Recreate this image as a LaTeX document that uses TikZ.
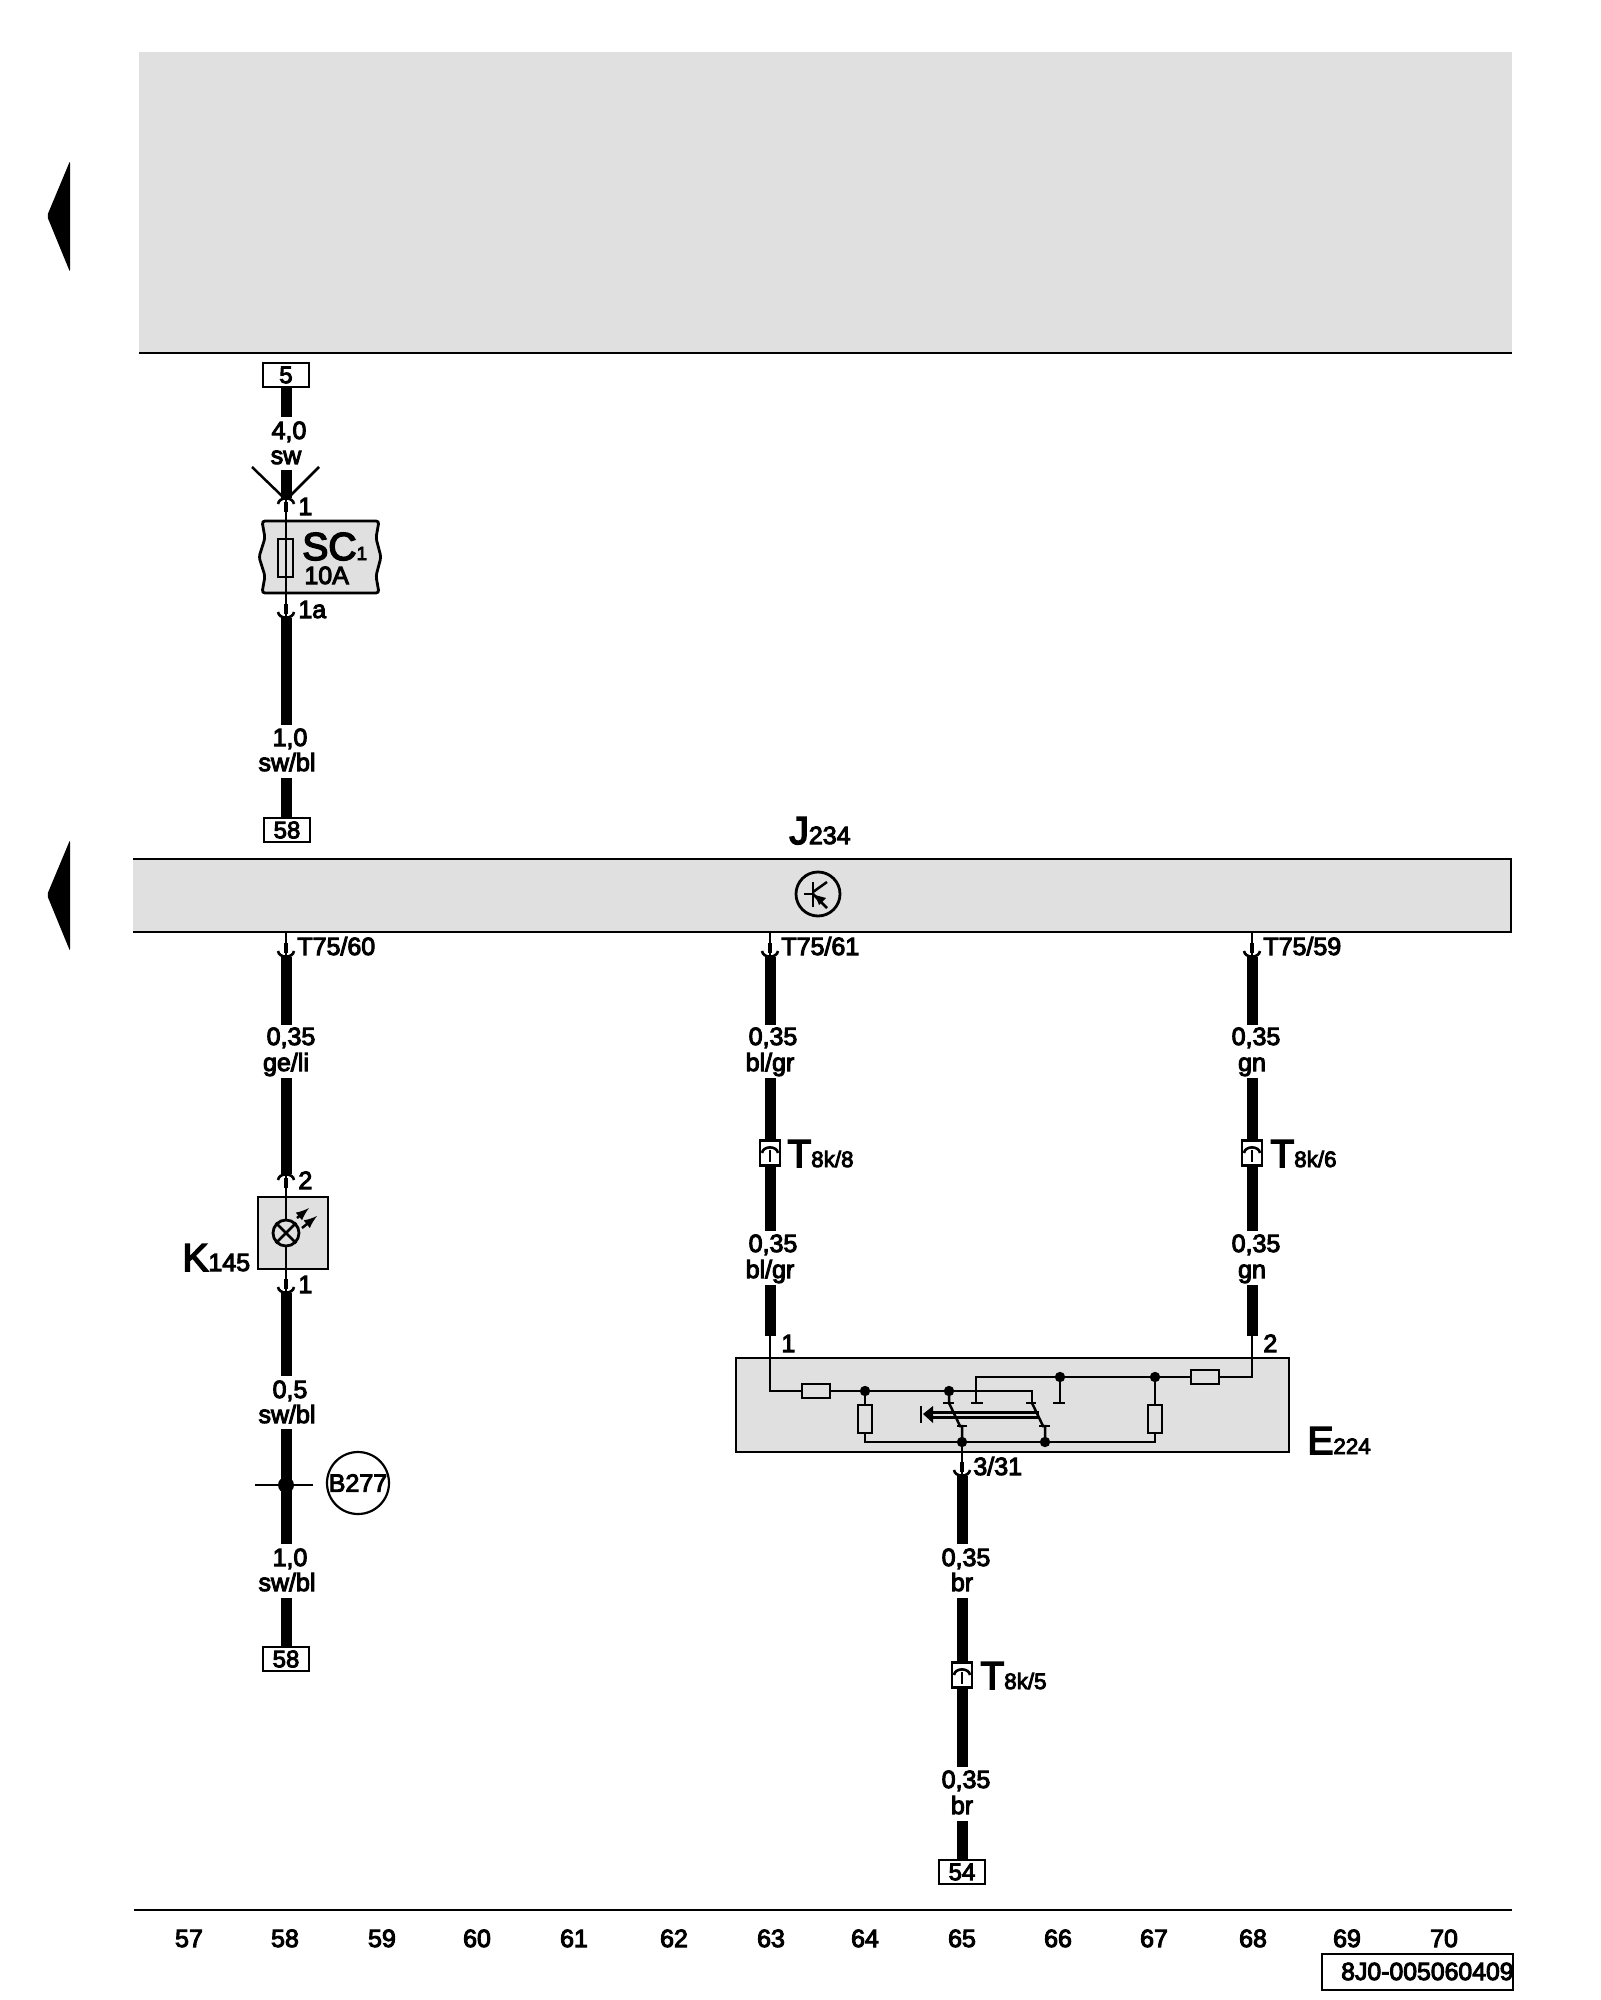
\documentclass[tikz,border=0pt]{standalone}
\usepackage{fontspec}
\setmainfont{Liberation Sans}[RawFeature={embolden=4}]
\usepackage{tikz}
\newcommand{\bigletter}[1]{{\fontsize{19.5}{20}\selectfont #1}}
\newcommand{\smallsub}[1]{{\fontsize{11.2}{14}\selectfont #1}}
\definecolor{panel}{HTML}{E0E0E0}

\begin{document}
\begin{tikzpicture}[x=0.5pt, y=-0.5pt,
	lab/.style = {anchor=base, inner sep=0pt, font=\fontsize{12.5}{14}\selectfont},
	labw/.style = {lab, anchor=base west},
	tag/.style = {draw, line width=1.4pt, fill=white, inner sep=0pt, minimum width=23pt, minimum height=12pt, font=\fontsize{12}{14}\selectfont},
	tbox/.style = {draw, line width=1.4pt, fill=white, inner sep=0pt, minimum width=10pt, minimum height=12.5pt},
	res/.style = {draw, line width=1.25pt, fill=panel, inner sep=0pt},
	wire/.style = {line width=5.5pt},
	lead/.style = {line width=1.25pt},
	line/.style = {line width=1.4pt},
	pinup/.pic = {
		\draw[line width=1.3pt] (-8,6) .. controls (-7,-1.5) and (7,-1.5) .. (8,6);
		\draw[line width=2pt] (0,4) -- (0,14);
	},
	pindown/.pic = {
		\draw[line width=1.3pt] (-8,-6) .. controls (-7,1.5) and (7,1.5) .. (8,-6);
		\draw[line width=2pt] (0,-4) -- (0,-14);
	},
	pinbox/.pic = {
		\draw[line width=1.3pt] (-8,6) .. controls (-7,-1.5) and (7,-1.5) .. (8,6);
		\draw[line width=1pt] (0,3) -- (0,15);
	}]

	\useasboundingbox (0,0) rectangle (1600,2000);

	% top panel and markers
	\fill[panel] (139,52) rectangle (1512,353);
	\draw[line] (139,353) -- (1512,353);
	\fill[rounded corners=1pt] (47,216) -- (70,161) -- (70,272) -- cycle;
	\fill[rounded corners=1pt] (47,895) -- (70,840) -- (70,951) -- cycle;

	% control unit
	\fill[panel] (133,859) rectangle (1511,932);
	\draw[line] (133,859) -- (1511,859) -- (1511,932) -- (133,932);
	\node[labw] (J234) at (789,844) {\bigletter{J}234};
	\coordinate (Q) at (818,894);
	\draw[line] (Q) circle (11pt);
	\draw[lead] (804,894) -- (813,894);
	\draw[lead] (813,882) -- (813,907);
	\draw[lead] (813,892) -- (827,882);
	\draw[lead] (813,894) -- (827,908);
	\fill (815,895) -- (826,898) -- (819,905) -- cycle;

	% column 58, upper part
	\node[tag] (B5) at (286,375) {5};
	\node[lab] (S1) at (289,439) {4,0};
	\node[lab] (C1) at (286,464) {sw};
	\coordinate (W1) at (286,417);
	\coordinate (W2) at (286,470);
	\coordinate (P1) at (286,498);
	\draw[wire] (B5.south) -- (W1);
	\draw[wire] (W2) -- (P1);
	\draw[lead] (252,467) -- (282,496);
	\draw[lead] (319,467) -- (290,496);
	\draw[line, fill=panel, rounded corners=1.5pt] (262,521) -- (265,538) -- (259,557) -- (265,576) -- (262,593) -- (379,593) -- (376,576) -- (381,557) -- (376,538) -- (379,521) -- cycle;
	\node[res, minimum width=7.5pt, minimum height=19pt] (F1) at (285.5,558) {};
	\coordinate (P2) at (286,618);
	\draw[lead] (P1) -- (P2);
	\pic at (P1) {pinup};
	\pic at (P2) {pindown};
	\node[labw] (N1) at (298,515) {1};
	\node[labw] (N1a) at (298,618) {1a};
	\node[labw] (SC1) at (302,560) {\bigletter{SC}{\fontsize{9.5}{10}\selectfont 1}};
	\node[labw] (F10) at (304,584) {10A};
	\coordinate (W3) at (286,725);
	\coordinate (W4) at (286,778);
	\draw[wire] (P2) -- (W3);
	\node[lab] (S2) at (290,746) {1,0};
	\node[lab] (C2) at (287,771) {sw/bl};
	\node[tag] (B58a) at (287,830) {58};
	\draw[wire] (W4) -- (W4 |- B58a.north);

	% column 58, lower part
	\coordinate (Q1) at (286,932);
	\coordinate (P3) at (286,957);
	\draw[lead] (Q1) -- (P3);
	\pic at (P3) {pindown};
	\node[labw] (T60) at (297,955) {T75/60};
	\coordinate (W5) at (286,1025);
	\coordinate (W6) at (286,1078);
	\coordinate (P4) at (286,1174);
	\draw[wire] (P3) -- (W5);
	\draw[wire] (W6) -- (P4);
	\node[lab] (S3) at (291,1045) {0,35};
	\node[lab] (C3) at (286,1071) {ge/li};
	\draw[line, fill=panel] (258,1197) rectangle (328,1269);
	\coordinate (P5) at (286,1293);
	\draw[lead] (P4) -- (P5);
	\pic at (P4) {pinup};
	\pic at (P5) {pindown};
	\node[draw, line width=1.4pt, circle, fill=panel, minimum size=13pt, inner sep=0pt] (K1) at (286,1233) {};
	\draw[lead] (K1.north west) -- (K1.south east);
	\draw[lead] (K1.north east) -- (K1.south west);
	\draw[lead, -latex] (297,1218) -- (309,1208);
	\draw[lead, -latex] (302,1228) -- (317,1216);
	\node[labw] (N2) at (298,1189) {2};
	\node[labw] (N3) at (298,1293) {1};
	\node[labw] (K145) at (182,1271) {\bigletter{K}145};
	\coordinate (W7) at (286,1376);
	\coordinate (W8) at (286,1429);
	\coordinate (W9) at (286,1544);
	\coordinate (W10) at (286,1598);
	\draw[wire] (P5) -- (W7);
	\draw[wire] (W8) -- (W9);
	\node[lab] (S4) at (290,1398) {0,5};
	\node[lab] (C4) at (287,1423) {sw/bl};
	\coordinate (J1) at (286,1485);
	\coordinate (J2) at (255,1485);
	\coordinate (J3) at (313,1485);
	\draw[lead] (J2) -- (J3);
	\fill (J1) circle (4pt);
	\node[draw, circle, line width=1.1pt, minimum size=31pt, inner sep=0pt, font=\fontsize{12.5}{14}\selectfont] (B277) at (358,1483) {B277};
	\node[lab] (S5) at (290,1566) {1,0};
	\node[lab] (C5) at (287,1591) {sw/bl};
	\node[tag] (B58b) at (286,1659) {58};
	\draw[wire] (W10) -- (B58b.north);

	% column 63
	\coordinate (Q2) at (770,932);
	\coordinate (P6) at (770,957);
	\draw[lead] (Q2) -- (P6);
	\pic at (P6) {pindown};
	\node[labw] (T61) at (781,955) {T75/61};
	\coordinate (W11) at (770,1025);
	\coordinate (W12) at (770,1078);
	\coordinate (W13) at (770,1231);
	\coordinate (W14) at (770,1285);
	\coordinate (P7) at (770,1336);
	\draw[wire] (P6) -- (W11);
	\draw[wire] (W12) -- (W13);
	\draw[wire] (W14) -- (P7);
	\node[lab] (S6) at (773,1045) {0,35};
	\node[lab] (C6) at (770,1071) {bl/gr};
	\node[tbox] (T8) at (770,1153) {};
	\pic at (770,1147) {pinbox};
	\node[labw] (T8k8) at (787,1167) {\bigletter{T}\smallsub{8k/8}};
	\node[lab] (S7) at (773,1252) {0,35};
	\node[lab] (C7) at (770,1278) {bl/gr};

	% column 68
	\coordinate (Q3) at (1252,932);
	\coordinate (P8) at (1252,957);
	\draw[lead] (Q3) -- (P8);
	\pic at (P8) {pindown};
	\node[labw] (T59) at (1263,955) {T75/59};
	\coordinate (W15) at (1252,1025);
	\coordinate (W16) at (1252,1078);
	\coordinate (W17) at (1252,1231);
	\coordinate (W18) at (1252,1285);
	\coordinate (P9) at (1252,1336);
	\draw[wire] (P8) -- (W15);
	\draw[wire] (W16) -- (W17);
	\draw[wire] (W18) -- (P9);
	\node[lab] (S8) at (1256,1045) {0,35};
	\node[lab] (C8) at (1252,1071) {gn};
	\node[tbox] (T6) at (1252,1153) {};
	\pic at (1252,1147) {pinbox};
	\node[labw] (T8k6) at (1270,1167) {\bigletter{T}\smallsub{8k/6}};
	\node[lab] (S9) at (1256,1252) {0,35};
	\node[lab] (C9) at (1252,1278) {gn};

	% switch E224
	\draw[line, fill=panel] (736,1358) rectangle (1289,1452);
	\node[labw] (N4) at (781,1352) {1};
	\node[labw] (N5) at (1263,1352) {2};
	\node[labw] (E224) at (1307,1454) {\bigletter{E}\smallsub{224}};
	\coordinate (D1) at (865,1391);
	\coordinate (D2) at (949,1391);
	\coordinate (D3) at (1060,1377);
	\coordinate (D4) at (1155,1377);
	\coordinate (D5) at (962,1442);
	\coordinate (D6) at (1045,1442);
	\coordinate (P10) at (962,1476);
	\draw[lead] (P7) -- (770,1391) -- (D1) -- (D2) -- (1032,1391) -- (1032,1403);
	\draw[lead] (P9) -- (1252,1377) -- (D4) -- (D3) -- (976,1377) -- (976,1403);
	\draw[lead] (D1) -- (865,1442) -- (D5) -- (D6) -- (1155,1442) -- (1155,1377);
	\draw[lead] (D2) -- (949,1403) -- (960,1426) -- (962,1426) -- (D5);
	\draw[lead] (1032,1403) -- (1043,1426) -- (1045,1426) -- (D6);
	\draw[lead] (D3) -- (1060,1403);
	\draw[lead] (943,1403) -- (954,1403);
	\draw[lead] (1026,1403) -- (1036,1403);
	\draw[lead] (971,1403) -- (983,1403);
	\draw[lead] (1053,1403) -- (1065,1403);
	\draw[lead] (957,1426) -- (967,1426);
	\draw[lead] (1039,1426) -- (1050,1426);
	\foreach \d in {D1,D2,D3,D4,D5,D6} {
		\fill (\d) circle (2.6pt);
	}
	\node[res, minimum width=14pt, minimum height=7pt] (R1) at (816,1391) {};
	\node[res, minimum width=14pt, minimum height=7pt] (R4) at (1205,1377) {};
	\node[res, minimum width=7pt, minimum height=14pt] (R2) at (865,1419) {};
	\node[res, minimum width=7pt, minimum height=14pt] (R3) at (1155,1419) {};
	\draw[line] (921,1406) -- (921,1423);
	\fill (923,1414) -- (933,1406) -- (933,1423) -- cycle;
	\draw[line] (932,1412.5) -- (1039,1412.5);
	\draw[lead] (932,1417.5) -- (1039,1417.5);

	% column 65
	\draw[lead] (D5) -- (P10);
	\pic at (P10) {pindown};
	\node[labw] (N331) at (973,1475) {3/31};
	\coordinate (W19) at (962,1544);
	\coordinate (W20) at (962,1598);
	\coordinate (W21) at (962,1767);
	\coordinate (W22) at (962,1821);
	\draw[wire] (P10) -- (W19);
	\draw[wire] (W20) -- (W21);
	\node[lab] (S10) at (966,1566) {0,35};
	\node[lab] (C10) at (962,1591) {br};
	\node[tbox] (T5) at (962,1675) {};
	\pic at (962,1669) {pinbox};
	\node[labw] (T8k5) at (980,1689) {\bigletter{T}\smallsub{8k/5}};
	\node[lab] (S11) at (966,1788) {0,35};
	\node[lab] (C11) at (962,1814) {br};
	\node[tag] (B54) at (962,1872) {54};
	\draw[wire] (W22) -- (B54.north);

	% grid numbers
	\draw[line] (134,1910) -- (1512,1910);
	\foreach \x/\t in {189/57, 285/58, 382/59, 477/60, 574/61, 674/62, 771/63, 865/64, 962/65, 1058/66, 1154/67, 1253/68, 1347/69, 1444/70} {
		\node[lab] (G\t) at (\x,1947) {\t};
	}
	\node[draw, line width=1.4pt, inner sep=0pt, minimum width=95.5pt, minimum height=18pt] (Y) at (1417.5,1972) {};
	\node[lab, anchor=base east, font=\fontsize{12.4}{14}\selectfont] (Yt) at (1514,1980) {8J0-005060409};
\end{tikzpicture}
\end{document}
